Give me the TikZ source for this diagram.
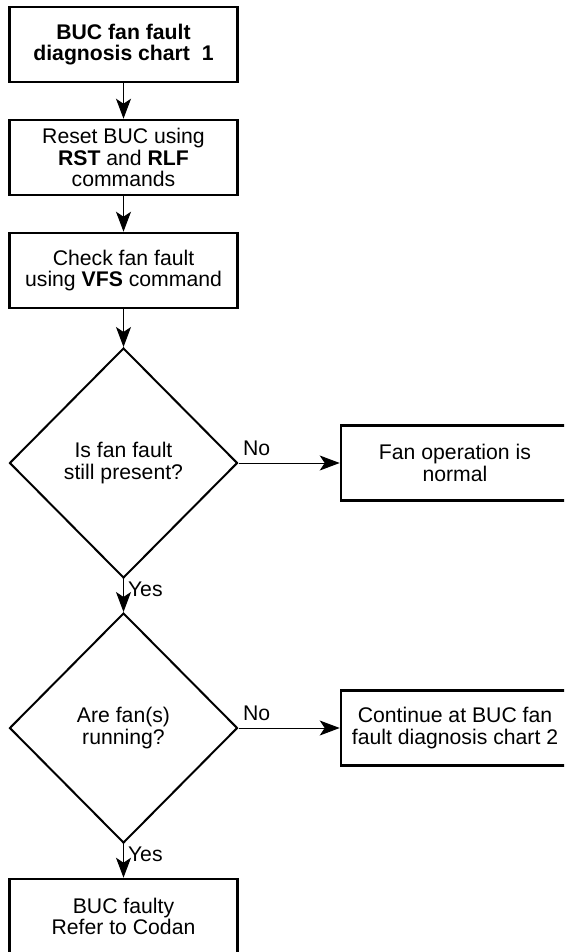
\documentclass[tikz,border=0pt]{standalone}
\usepackage{fontspec}
\setmainfont{Liberation Sans}
\usetikzlibrary{shapes.geometric}
\usetikzlibrary{arrows.meta}
\tikzset{
	box node/.style={rectangle,draw,line width=1.3pt,minimum width=114pt,minimum height=37.5pt,
		inner sep=0pt,align=center,font=\fontsize{10.6}{10.8}\selectfont},
	test node/.style={diamond,draw,line width=1pt,minimum width=114pt,minimum height=115pt,
		inner sep=0pt,align=center,font=\fontsize{10.6}{10.8}\selectfont},
	lbl/.style={font=\fontsize{10.6}{10.8}\selectfont,inner xsep=2pt,inner ysep=3.5pt}
}

\begin{document}
\begin{tikzpicture}[->,>={Stealth[length=10pt,width=7.5pt,inset=2.5pt]},line width=0.5pt,node distance=56.5pt]
		\useasboundingbox (0,0) rectangle (282pt,-476pt);
		\clip (0,0) rectangle (282pt,-476pt);
		\node[box node] (1) at (61.75pt,-22.25pt)            {\textbf{BUC fan fault}\\\textbf{diagnosis chart\ \ 1}};
		\node[box node] (2) [below of=1]                     {Reset BUC using\\\textbf{RST} and \textbf{RLF}\\commands};
		\node[box node] (3) [below of=2]                     {Check fan fault\\using \textbf{VFS} command};
		\node[test node] (4) [below of=3,yshift=-39.75pt]    {Is fan fault\\still present?};
		\node[box node] (5) [right of=4,xshift=109.25pt]     {Fan operation is\\normal};
		\node[test node] (6) [below of=4,yshift=-76pt]      {Are fan(s)\\running?};
		\node[box node] (7) [right of=6,xshift=109.25pt]     {Continue at BUC fan\\fault diagnosis chart 2};
		\node[box node] (8) [below of=6,yshift=-37.75pt]     {BUC faulty\\Refer to Codan};

		\path[every node/.style={lbl}]
		  (1) edge (2)
		  (2) edge (3)
		  (3) edge (4)
		  (4) edge node[above right,pos=0] {No} (5)
		  (4) edge node[right,pos=0.3] {Yes} (6)
		  (6) edge node[above right,pos=0] {No} (7)
		  (6) edge node[right,pos=0.3] {Yes} (8);
\end{tikzpicture}
\end{document}
